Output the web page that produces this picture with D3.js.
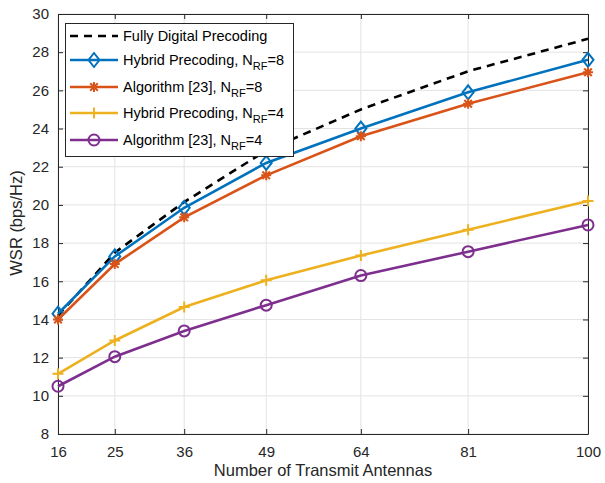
<!DOCTYPE html>
<html><head><meta charset="utf-8">
<script src="https://cdn.jsdelivr.net/npm/d3@7"></script>
<style>body{margin:0;background:#fff}svg{display:block}text{font-family:Helvetica,Arial,"Liberation Sans",sans-serif}</style>
</head><body><svg id="c" width="605" height="483"></svg>
<script>
const antennas = [16, 25, 36, 49, 64, 81, 100];
const fullyDigital = [14.2, 17.5, 20.15, 22.85, 25.0, 27.0, 28.7];
const hybridNrf8 = [14.3, 17.3, 19.85, 22.2, 24.0, 25.9, 27.6];
const algNrf8 = [14.0, 16.9, 19.35, 21.55, 23.6, 25.3, 26.95];
const hybridNrf4 = [11.15, 12.9, 14.65, 16.05, 17.35, 18.7, 20.2];
const algNrf4 = [10.5, 12.05, 13.4, 14.75, 16.3, 17.55, 18.95];
const yTicks = [8, 10, 12, 14, 16, 18, 20, 22, 24, 26, 28, 30];

const series = [
  {name: "Fully Digital Precoding", sub: null, vals: fullyDigital, color: "#000000", dash: "8,6", marker: null},
  {name: "Hybrid Precoding, N", sub: "RF", tail: "=8", vals: hybridNrf8, color: "#0072BD", marker: "diamond"},
  {name: "Algorithm [23], N", sub: "RF", tail: "=8", vals: algNrf8, color: "#D95319", marker: "star"},
  {name: "Hybrid Precoding, N", sub: "RF", tail: "=4", vals: hybridNrf4, color: "#EDB120", marker: "plus"},
  {name: "Algorithm [23], N", sub: "RF", tail: "=4", vals: algNrf4, color: "#7E2F8E", marker: "circle"}
];

const L = 58, R = 588, T = 14, B = 434;
const x = d3.scaleLinear().domain([16, 100]).range([L, R]);
const y = d3.scaleLinear().domain([8, 30]).range([B, T]);
const svg = d3.select("#c");
const axisColor = "#262626";

// grid
const g = svg.append("g");
g.selectAll(".gx").data(antennas).enter().append("line")
  .attr("x1", d => x(d)).attr("x2", d => x(d)).attr("y1", T).attr("y2", B)
  .attr("stroke", "#e3e3e3").attr("stroke-width", 1);
g.selectAll(".gy").data(yTicks).enter().append("line")
  .attr("x1", L).attr("x2", R).attr("y1", d => y(d)).attr("y2", d => y(d))
  .attr("stroke", "#e3e3e3").attr("stroke-width", 1);

// axes
const fs = 15;
const xa = svg.append("g").attr("transform", `translate(0,${B})`)
  .call(d3.axisBottom(x).tickValues(antennas).tickSizeInner(-5).tickSizeOuter(0).tickPadding(12));
const xt = svg.append("g").attr("transform", `translate(0,${T})`)
  .call(d3.axisTop(x).tickValues(antennas).tickSizeInner(-5).tickSizeOuter(0).tickFormat(""));
const ya = svg.append("g").attr("transform", `translate(${L},0)`)
  .call(d3.axisLeft(y).tickValues(yTicks).tickSizeInner(-5).tickSizeOuter(0).tickPadding(9));
const yr = svg.append("g").attr("transform", `translate(${R},0)`)
  .call(d3.axisRight(y).tickValues(yTicks).tickSizeInner(-5).tickSizeOuter(0).tickFormat(""));
[xa, xt, ya, yr].forEach(a => {
  a.selectAll("path").attr("stroke", axisColor).attr("stroke-width", 1);
  a.selectAll("line").attr("stroke", axisColor);
  a.selectAll("text").attr("fill", axisColor).attr("font-size", fs)
   .style("font-family", "Helvetica,Arial,'Liberation Sans',sans-serif");
});

svg.append("text").attr("x", (L + R) / 2).attr("y", 476).attr("text-anchor", "middle")
  .attr("font-size", 16.5).attr("fill", axisColor).text("Number of Transmit Antennas");
svg.append("text").attr("transform", `translate(22,${(T + B) / 2 - 1}) rotate(-90)`).attr("text-anchor", "middle")
  .attr("font-size", 16.5).attr("fill", axisColor).text("WSR (bps/Hz)");

// markers
function drawMarker(sel, type, cx, cy, color) {
  const m = sel.append("g").attr("transform", `translate(${cx},${cy})`)
    .attr("fill", "none").attr("stroke", color).attr("stroke-width", 2);
  if (type === "diamond") m.append("path").attr("d", "M0,-7L5.5,0L0,7L-5.5,0Z");
  if (type === "circle") m.append("circle").attr("r", 5.5);
  if (type === "plus") m.append("path").attr("d", "M-5.5,0H5.5M0,-5.5V5.5");
  if (type === "star") m.append("path").attr("d", "M-5,0H5M0,-5V5M-3.8,-3.8L3.8,3.8M-3.8,3.8L3.8,-3.8");
}

const line = d3.line().x((d, i) => x(antennas[i])).y(d => y(d));
const plot = svg.append("g");
series.forEach(s => {
  plot.append("path").datum(s.vals).attr("d", line).attr("fill", "none")
    .attr("stroke", s.color).attr("stroke-width", 2.6)
    .attr("stroke-dasharray", s.dash || null);
  if (s.marker) s.vals.forEach((v, i) => drawMarker(plot, s.marker, x(antennas[i]), y(v), s.color));
});

// legend
const lg = svg.append("g");
lg.append("rect").attr("x", 65.5).attr("y", 23.5).attr("width", 228).attr("height", 133)
  .attr("fill", "#fff").attr("stroke", axisColor).attr("stroke-width", 1);
const rowY = [36, 60, 87, 113, 140];
series.forEach((s, i) => {
  const yy = rowY[i];
  lg.append("line").attr("x1", 70).attr("x2", 118).attr("y1", yy).attr("y2", yy)
    .attr("stroke", s.color).attr("stroke-width", 2.6).attr("stroke-dasharray", s.dash || null);
  if (s.marker) drawMarker(lg, s.marker, 94, yy, s.color);
  const t = lg.append("text").attr("x", 123).attr("y", yy + 5).attr("font-size", 14.5).attr("fill", "#000");
  t.append("tspan").text(s.name);
  if (s.sub) {
    t.append("tspan").attr("dy", 5).attr("font-size", 11).text(s.sub);
    t.append("tspan").attr("dy", -5).text(s.tail);
  }
});
</script></body></html>
